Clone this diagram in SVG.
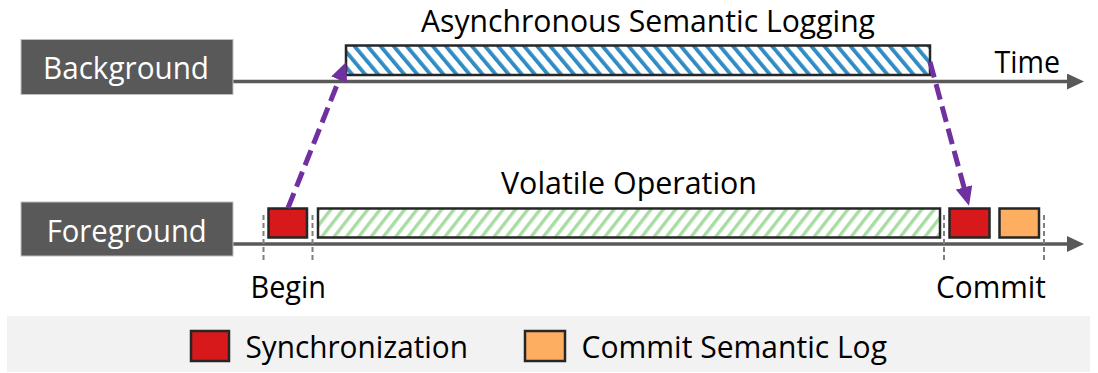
<svg xmlns="http://www.w3.org/2000/svg" width="1098" height="373" viewBox="0 0 1098 373">
  <style>
    text { font-family: "Open Sans", "Noto Sans", "DejaVu Sans", sans-serif; font-size: 30.5px; fill: #000; }
    .lane { fill: #595959; stroke: #bfbfbf; stroke-width: 1; }
    .lane-text { fill: #ffffff; }
    .axis { stroke: #595959; stroke-width: 3.5; fill: none; }
    .mark { stroke: #7f7f7f; stroke-width: 2; stroke-dasharray: 5 3; fill: none; }
    .box { stroke: #262626; stroke-width: 2.5; }
    .sync { fill: #d7191c; }
    .commit { fill: #fdae61; }
    .flow { stroke: #7030a0; stroke-width: 5; stroke-dasharray: 16 7; fill: none; }
  </style>
  <defs>
    <pattern id="hatch-blue" width="10" height="10" patternUnits="userSpaceOnUse" patternTransform="rotate(-40)">
      <rect width="10" height="10" fill="#ffffff"/>
      <rect x="0" y="0" width="3.8" height="10" fill="#2e8bc4"/>
    </pattern>
    <pattern id="hatch-green" width="9.7" height="9.7" patternUnits="userSpaceOnUse" patternTransform="rotate(38)">
      <rect width="9.7" height="9.7" fill="#ffffff"/>
      <rect x="0" y="0" width="3.4" height="9.7" fill="#a9dca2"/>
    </pattern>
    <marker id="head-axis" markerUnits="userSpaceOnUse" markerWidth="18" markerHeight="16" refX="1" refY="8" orient="auto">
      <path d="M0,0 L17,8 L0,16 z" fill="#595959"/>
    </marker>
    <marker id="head-flow" markerUnits="userSpaceOnUse" markerWidth="20" markerHeight="17" refX="1" refY="8.5" orient="auto">
      <path d="M0,0 L19,8.5 L0,17 z" fill="#7030a0"/>
    </marker>
  </defs>

  <!-- legend strip -->
  <g id="legend">
    <rect x="7" y="316" width="1083" height="56" fill="#f2f2f2"/>
    <rect class="box sync" x="191" y="331" width="38" height="30"/>
    <text x="245.5" y="358" textLength="222.5" lengthAdjust="spacingAndGlyphs">Synchronization</text>
    <rect class="box commit" x="525" y="331" width="40" height="30"/>
    <text x="581.5" y="358" textLength="305.5" lengthAdjust="spacingAndGlyphs">Commit Semantic Log</text>
  </g>

  <!-- time axes -->
  <g id="axes">
    <line class="axis" x1="233" y1="81.5" x2="1068" y2="81.5" marker-end="url(#head-axis)"/>
    <line class="axis" x1="233" y1="244" x2="1068" y2="244" marker-end="url(#head-axis)"/>
    <text x="994.5" y="73.3" textLength="65.5" lengthAdjust="spacingAndGlyphs">Time</text>
  </g>

  <g id="background-lane">
    <rect class="lane" x="21" y="39.5" width="212" height="55"/>
    <text class="lane-text" x="43" y="79" textLength="166" lengthAdjust="spacingAndGlyphs">Background</text>
  </g>

  <g id="foreground-lane">
    <rect class="lane" x="21" y="202" width="212" height="54"/>
    <text class="lane-text" x="46.7" y="241.7" textLength="160" lengthAdjust="spacingAndGlyphs">Foreground</text>
  </g>

  <g id="semantic-logging">
    <rect class="box" x="346" y="45.5" width="584" height="29.5" fill="url(#hatch-blue)"/>
    <text x="421" y="31.7" textLength="454" lengthAdjust="spacingAndGlyphs">Asynchronous Semantic Logging</text>
  </g>

  <g id="begin-sync">
    <rect class="box sync" x="268.5" y="208.5" width="38.5" height="29"/>
  </g>

  <g id="volatile-operation">
    <rect class="box" x="318" y="208.5" width="622" height="29" fill="url(#hatch-green)"/>
    <text x="501" y="194.3" textLength="256" lengthAdjust="spacingAndGlyphs">Volatile Operation</text>
  </g>

  <g id="commit-sync">
    <rect class="box sync" x="949.5" y="208.5" width="40" height="29"/>
  </g>

  <g id="commit-log">
    <rect class="box commit" x="999.5" y="208.5" width="39.5" height="29"/>
  </g>

  <!-- begin / commit markers on the foreground axis -->
  <g id="markers">
    <line class="mark" x1="263.5" y1="215" x2="263.5" y2="263"/>
    <line class="mark" x1="312.5" y1="215" x2="312.5" y2="263"/>
    <line class="mark" x1="944" y1="215" x2="944" y2="263"/>
    <line class="mark" x1="1044" y1="215" x2="1044" y2="263"/>
    <text x="250.5" y="298.3" textLength="75.5" lengthAdjust="spacingAndGlyphs">Begin</text>
    <text x="936" y="298.3" textLength="110" lengthAdjust="spacingAndGlyphs">Commit</text>
  </g>

  <!-- hand-off between foreground and background -->
  <g id="connectors">
    <line class="flow" x1="288" y1="208" x2="339.5" y2="78.7" marker-end="url(#head-flow)"/>
    <line class="flow" x1="930" y1="62" x2="964.3" y2="188.4" marker-end="url(#head-flow)"/>
  </g>
</svg>
